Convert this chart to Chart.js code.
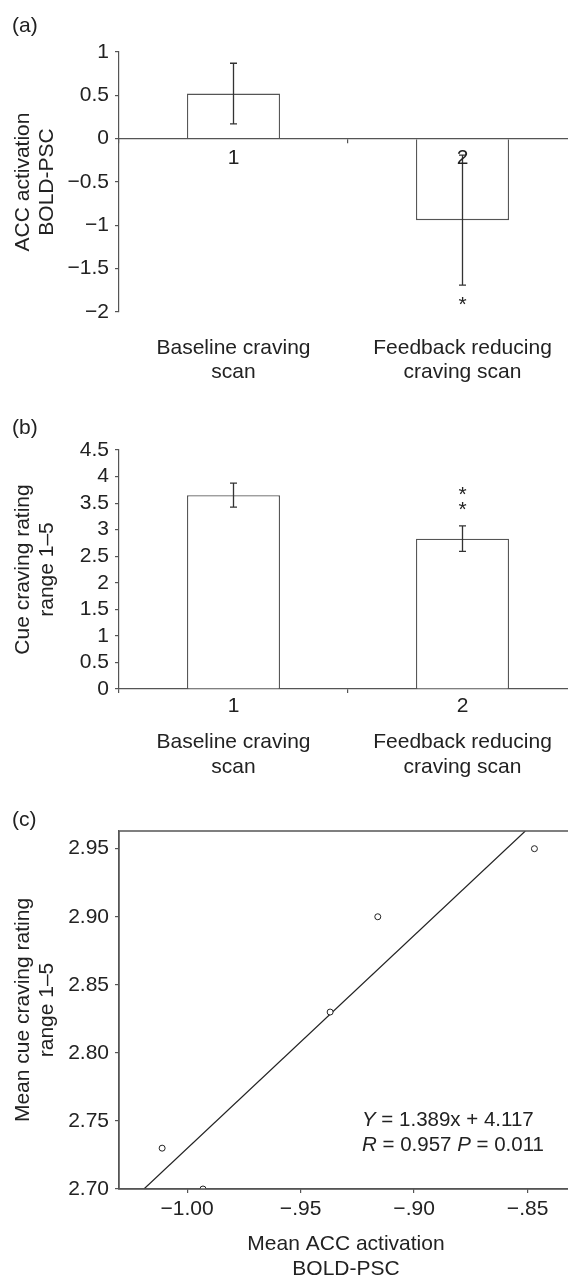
<!DOCTYPE html>
<html>
<head>
<meta charset="utf-8">
<script src="https://cdn.jsdelivr.net/npm/chart.js@4.4.1/dist/chart.umd.min.js"></script>
<style>
  html, body { margin: 0; padding: 0; background: #fff; overflow: hidden; }
  #page { position: relative; width: 568px; height: 1278px; overflow: hidden; }
  canvas { position: absolute; left: 0; }
  .panel { position: absolute; left: 12px; z-index: 2; font: 21px "Liberation Sans", Arial, sans-serif; line-height: 24px; color: #222; }
</style>
</head>
<body>
<div id="page">
  <canvas id="acc-chart" width="578" height="395" style="top:0px"></canvas>
  <canvas id="cue-chart" width="578" height="400" style="top:395px"></canvas>
  <canvas id="corr-chart" width="578" height="510" style="top:780px"></canvas>
  <div class="panel" style="top:13px">(a)</div>
  <div class="panel" style="top:415px">(b)</div>
  <div class="panel" style="top:807px">(c)</div>
</div>
<script>
const groups = ['1', '2'];
const groupNames = [['Baseline craving', 'scan'], ['Feedback reducing', 'craving scan']];

const accMean = [0.52, -0.94];
const accErr = [0.35, 0.75];
const accMarks = ['', '*'];
const accTicks = [-2, -1.5, -1, -0.5, 0, 0.5, 1];
const accTickLabels = ['\u22122', '\u22121.5', '\u22121', '\u22120.5', '0', '0.5', '1'];

const cueMean = [3.65, 2.83];
const cueErr = [0.225, 0.24];
const cueMarks = ['', '**'];
const cueTicks = [0, 0.5, 1, 1.5, 2, 2.5, 3, 3.5, 4, 4.5];
const cueTickLabels = ['0', '0.5', '1', '1.5', '2', '2.5', '3', '3.5', '4', '4.5'];

const corrX = [-1.011, -0.993, -0.937, -0.916, -0.847];
const corrY = [2.73, 2.70, 2.83, 2.90, 2.95];
const fitX = [-1.019, -0.851];
const fitY = [2.70, 2.963];
const corrXTicks = [-1.00, -0.95, -0.90, -0.85];
const corrXTickLabels = ['\u22121.00', '\u2212.95', '\u2212.90', '\u2212.85'];
const corrYTicks = [2.70, 2.75, 2.80, 2.85, 2.90, 2.95];
const corrYTickLabels = ['2.70', '2.75', '2.80', '2.85', '2.90', '2.95'];
const fitText = [
    [['Y', true], [' = 1.389x + 4.117', false]],
    [['R', true], [' = 0.957 ', false], ['P', true], [' = 0.011', false]]
];

const ink = '#222'
const lineGray = '#555'
const fontFamily = '"Liberation Sans", Arial, sans-serif'

Chart.defaults.font.family = fontFamily;
Chart.defaults.font.size = 21;
Chart.defaults.font.lineHeight = 1.1667;
Chart.defaults.color = ink;

function fixedTicks(values) {
    return axis => { axis.ticks = values.map(v => ({ value: v })) }
}

function leftAxis(min, max, values, labels, title) {
    return {
        position: 'left',
        min: min,
        max: max,
        afterBuildTicks: fixedTicks(values),
        afterFit: scale => { scale.width = 119 },
        border: { display: true, color: lineGray, width: 1.2 },
        grid: { drawOnChartArea: false, tickLength: 4, color: lineGray, lineWidth: 1.2 },
        ticks: {
            padding: 6,
            color: ink,
            autoSkip: false,
            callback: v => labels[values.indexOf(v)]
        },
        title: { display: true, text: title, padding: { top: 10.75, bottom: 0 }, color: ink }
    }
}

function nameAxis(height, pad) {
    return {
        type: 'category',
        position: 'bottom',
        weight: 1,
        labels: groupNames,
        offset: true,
        afterFit: scale => { scale.height = height },
        border: { display: false },
        grid: { display: false, drawTicks: false },
        ticks: { padding: pad, color: ink, maxRotation: 0, autoSkip: false }
    }
}

const errorBarPlugin = {
    id: 'errorBars',
    afterDatasetsDraw(chart, args, opts) {
        const ctx = chart.ctx;
        const yScale = chart.scales.y;
        const values = chart.data.datasets[0].data;
        ctx.save();
        ctx.strokeStyle = '#333';
        ctx.lineWidth = 1.3;
        chart.getDatasetMeta(0).data.forEach((bar, i) => {
            const hi = yScale.getPixelForValue(values[i] + opts.err[i]);
            const lo = yScale.getPixelForValue(values[i] - opts.err[i]);
            ctx.beginPath();
            ctx.moveTo(bar.x, hi); ctx.lineTo(bar.x, lo);
            ctx.moveTo(bar.x - 3.5, hi); ctx.lineTo(bar.x + 3.5, hi);
            ctx.moveTo(bar.x - 3.5, lo); ctx.lineTo(bar.x + 3.5, lo);
            ctx.stroke();

            const mark = opts.marks[i];
            ctx.fillStyle = ink;
            ctx.font = '21px ' + fontFamily;
            ctx.textAlign = 'center';
            ctx.textBaseline = 'alphabetic';
            for (let k = 0; k < mark.length; k++) {
                const y = values[i] >= 0 ? hi - 10 - k * 15.3 : lo + 26 + k * 15.3;
                ctx.fillText(mark[k], bar.x, y);
            }
        });
        ctx.restore();
    }
};

const framePlugin = {
    id: 'frame',
    afterDatasetsDraw(chart) {
        const a = chart.chartArea;
        const ctx = chart.ctx;
        ctx.save();
        ctx.strokeStyle = lineGray;
        ctx.lineWidth = 1.5;
        ctx.strokeRect(a.left, a.top, a.right - a.left, a.bottom - a.top);
        ctx.restore();
    }
};

const fitLabelPlugin = {
    id: 'fitLabel',
    afterDraw(chart) {
        const a = chart.chartArea;
        const ctx = chart.ctx;
        ctx.save();
        ctx.fillStyle = ink;
        ctx.textBaseline = 'middle';
        ctx.textAlign = 'left';
        fitText.forEach((parts, row) => {
            let x = a.left + 243;
            const y = a.bottom - 69 + row * 25;
            parts.forEach(([txt, italic]) => {
                ctx.font = (italic ? 'italic ' : '') + '20.5px ' + fontFamily;
                ctx.fillText(txt, x, y);
                x += ctx.measureText(txt).width;
            });
        });
        ctx.restore();
    }
};

(function () {
    'use strict'

    const common = {
        responsive: false,
        animation: false,
        devicePixelRatio: 1,
        events: []
    };

    let accConfig = {
        type: 'bar',
        data: {
            labels: groups,
            datasets: [{
                data: accMean,
                backgroundColor: '#fff',
                borderColor: lineGray,
                borderWidth: 1.3,
                barPercentage: 0.406,
                categoryPercentage: 1
            }]
        },
        options: Object.assign({}, common, {
            layout: { padding: { top: 52, left: 0, right: 1, bottom: 0 } },
            plugins: {
                legend: { display: false },
                tooltip: { enabled: false },
                errorBars: { err: accErr, marks: accMarks }
            },
            scales: {
                x: {
                    type: 'category',
                    position: { y: 0 },
                    offset: true,
                    border: { display: true, color: lineGray, width: 1.2, z: 1 },
                    grid: { offset: true, drawOnChartArea: false, tickLength: 4, color: lineGray, lineWidth: 1.2 },
                    ticks: { padding: 3, color: ink, z: 1 }
                },
                x2: nameAxis(83, 23.75),
                y: leftAxis(-2, 1, accTicks, accTickLabels, ['ACC activation', 'BOLD-PSC'])
            }
        }),
        plugins: [errorBarPlugin]
    };

    let cueConfig = {
        type: 'bar',
        data: {
            labels: groups,
            datasets: [{
                data: cueMean,
                backgroundColor: '#fff',
                borderColor: lineGray,
                borderWidth: 1.3,
                barPercentage: 0.406,
                categoryPercentage: 1
            }]
        },
        options: Object.assign({}, common, {
            layout: { padding: { top: 55, left: 0, right: 1, bottom: 0 } },
            plugins: {
                legend: { display: false },
                tooltip: { enabled: false },
                errorBars: { err: cueErr, marks: cueMarks }
            },
            scales: {
                x: {
                    type: 'category',
                    position: 'bottom',
                    weight: 0,
                    offset: true,
                    afterFit: scale => { scale.height = 31 },
                    border: { display: true, color: lineGray, width: 1.2 },
                    grid: { offset: true, drawOnChartArea: false, tickLength: 4, color: lineGray, lineWidth: 1.2 },
                    ticks: { padding: 1, color: ink }
                },
                x2: nameAxis(75, 10.25),
                y: leftAxis(0, 4.5, cueTicks, cueTickLabels, ['Cue craving rating', 'range 1\u20135'])
            }
        }),
        plugins: [errorBarPlugin]
    };

    let corrConfig = {
        type: 'scatter',
        data: {
            datasets: [
                {
                    data: corrX.map((x, i) => ({ x: x, y: corrY[i] })),
                    pointRadius: 3,
                    pointBorderWidth: 1,
                    pointBorderColor: ink,
                    pointBackgroundColor: '#fff',
                    clip: 0,
                    order: 0
                },
                {
                    data: fitX.map((x, i) => ({ x: x, y: fitY[i] })),
                    showLine: true,
                    borderColor: ink,
                    borderWidth: 1.2,
                    pointRadius: 0,
                    clip: 0,
                    order: 1
                }
            ]
        },
        options: Object.assign({}, common, {
            layout: { padding: { top: 51, left: 0, right: 1, bottom: 0 } },
            plugins: {
                legend: { display: false },
                tooltip: { enabled: false }
            },
            scales: {
                x: {
                    type: 'linear',
                    position: 'bottom',
                    min: -1.03,
                    max: -0.83,
                    afterBuildTicks: fixedTicks(corrXTicks),
                    afterFit: scale => { scale.height = 101 },
                    border: { display: true, color: lineGray, width: 1.2 },
                    grid: { drawOnChartArea: false, tickLength: 4, color: lineGray, lineWidth: 1.2 },
                    ticks: {
                        padding: 3.75,
                        color: ink,
                        maxRotation: 0,
                        autoSkip: false,
                        callback: v => corrXTickLabels[corrXTicks.indexOf(v)]
                    },
                    title: {
                        display: true,
                        text: ['Mean ACC activation', 'BOLD-PSC'],
                        padding: { top: 0, bottom: 8.75 },
                        color: ink
                    }
                },
                y: leftAxis(2.70, 2.963, corrYTicks, corrYTickLabels, ['Mean cue craving rating', 'range 1\u20135'])
            }
        }),
        plugins: [framePlugin, fitLabelPlugin]
    };

    let accChart = new Chart(document.getElementById('acc-chart'), accConfig);
    let cueChart = new Chart(document.getElementById('cue-chart'), cueConfig);
    let corrChart = new Chart(document.getElementById('corr-chart'), corrConfig);
})()
</script>
</body>
</html>
